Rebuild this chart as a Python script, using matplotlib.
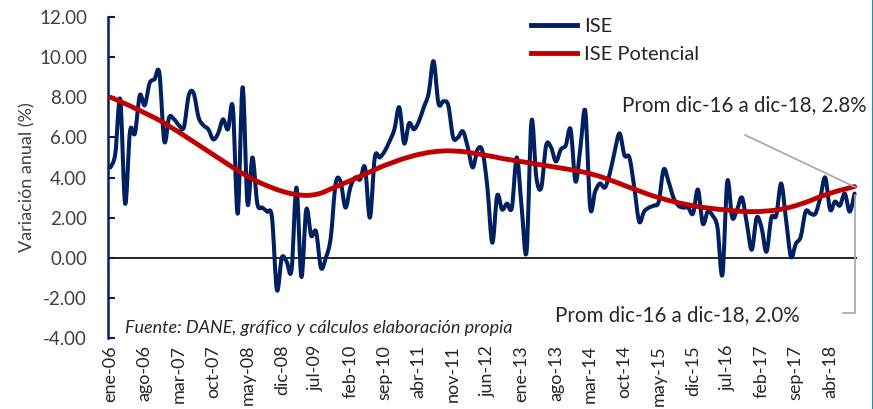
import matplotlib.pyplot as plt
from matplotlib.lines import Line2D
from matplotlib.path import Path
from matplotlib.patches import PathPatch
import numpy as np

plt.rcParams['font.family'] = ['Lato', 'DejaVu Sans']

# ISE monthly annual variation (%), ene-06 .. sep-18
ise = [4.5, 5.2, 7.9, 2.7, 6.3, 6.2, 8.1, 7.6, 8.7, 8.9,
       9.2, 5.8, 7.0, 6.9, 6.6, 6.5, 8.1, 8.2, 7.0, 6.6,
       6.4, 5.9, 6.2, 6.9, 6.4, 7.5, 2.2, 8.5, 2.7, 5.0,
       2.7, 2.5, 2.3, 2.0, -1.6, 0.0, -0.2, -0.6, 3.5, -0.95,
       2.4, 1.1, 1.3, -0.5, 0.0, 1.0, 3.7, 3.8, 2.5, 3.5,
       4.0, 3.9, 4.5, 2.0, 5.0, 5.0, 5.3, 5.8, 6.4, 7.5,
       5.7, 6.7, 6.4, 6.8, 7.5, 8.2, 9.8, 7.7, 7.8, 7.6,
       6.0, 6.0, 6.3, 5.5, 4.5, 5.4, 5.3, 3.5, 0.75, 3.1,
       2.4, 2.7, 2.5, 5.0, 2.5, 0.3, 6.8, 4.0, 3.5, 5.6,
       5.5, 4.8, 5.4, 5.6, 6.4, 3.8, 5.5, 7.3, 2.5, 3.3,
       3.7, 3.5, 4.2, 5.3, 6.2, 5.1, 5.0, 3.5, 1.8, 2.3,
       2.5, 2.6, 2.8, 4.4, 3.8, 3.0, 2.6, 2.5, 2.5, 2.2,
       3.4, 1.7, 2.3, 2.1, 1.5, -0.85, 3.8, 2.0, 2.4, 3.0,
       1.7, 0.4, 2.0, 1.5, 0.3, 2.0, 2.1, 3.7, 1.9, 0.05,
       0.7, 1.05, 2.3, 2.2, 2.2, 3.0, 4.0, 2.4, 2.8, 2.6,
       3.2, 2.3, 3.2]

ise_pot = [8.00, 7.90, 7.79, 7.68, 7.57, 7.45, 7.34, 7.22, 7.10, 6.98,
           6.85, 6.71, 6.56, 6.41, 6.26, 6.10, 5.94, 5.78, 5.62, 5.46,
           5.30, 5.14, 4.98, 4.82, 4.66, 4.50, 4.35, 4.20, 4.06, 3.93,
           3.80, 3.69, 3.59, 3.49, 3.40, 3.32, 3.25, 3.19, 3.15, 3.12,
           3.11, 3.12, 3.16, 3.22, 3.32, 3.43, 3.53, 3.63, 3.74, 3.84,
           3.95, 4.06, 4.17, 4.28, 4.39, 4.50, 4.60, 4.69, 4.78, 4.87,
           4.95, 5.02, 5.09, 5.15, 5.20, 5.25, 5.28, 5.31, 5.32, 5.33,
           5.32, 5.31, 5.29, 5.26, 5.22, 5.18, 5.14, 5.09, 5.05, 5.00,
           4.95, 4.91, 4.87, 4.83, 4.79, 4.75, 4.71, 4.67, 4.63, 4.59,
           4.55, 4.51, 4.47, 4.43, 4.39, 4.35, 4.30, 4.25, 4.19, 4.12,
           4.05, 3.97, 3.88, 3.79, 3.70, 3.60, 3.51, 3.42, 3.33, 3.24,
           3.15, 3.07, 3.00, 2.93, 2.86, 2.80, 2.74, 2.69, 2.64, 2.59,
           2.55, 2.51, 2.48, 2.45, 2.42, 2.40, 2.38, 2.35, 2.33, 2.31,
           2.30, 2.30, 2.30, 2.31, 2.33, 2.35, 2.38, 2.42, 2.47, 2.53,
           2.60, 2.68, 2.76, 2.85, 2.95, 3.05, 3.13, 3.21, 3.29, 3.36,
           3.42, 3.49, 3.55]

tick_labels = ['ene-06', 'ago-06', 'mar-07', 'oct-07', 'may-08', 'dic-08',
               'jul-09', 'feb-10', 'sep-10', 'abr-11', 'nov-11', 'jun-12',
               'ene-13', 'ago-13', 'mar-14', 'oct-14', 'may-15', 'dic-15',
               'jul-16', 'feb-17', 'sep-17', 'abr-18']

navy = '#002060'
red = '#C00000'
grey = '#A6A6A6'
txt = '#262626'


def smooth_path(y):
    # Excel-like smoothed line: cubic bezier through every data point
    p = np.column_stack([np.arange(len(y)), np.asarray(y, float)])
    ext = np.vstack([p[0], p, p[-1]])
    verts = [p[0]]
    codes = [Path.MOVETO]
    for i in range(len(p) - 1):
        c1 = ext[i + 1] + (ext[i + 2] - ext[i]) / 6
        c2 = ext[i + 2] - (ext[i + 3] - ext[i + 1]) / 6
        verts += [c1, c2, p[i + 1]]
        codes += [Path.CURVE4] * 3
    return Path(verts, codes)


fig = plt.figure(figsize=(8.73, 4.09), dpi=100)
ax = fig.add_axes([0.1237, 0.1736, 0.858, 0.7848])

ax.axhline(0, color='black', lw=1.2, zorder=1)
ax.add_patch(PathPatch(smooth_path(ise), facecolor='none', edgecolor=navy,
                       lw=2.9, zorder=2, joinstyle='round', capstyle='round'))
ax.add_patch(PathPatch(smooth_path(ise_pot), facecolor='none', edgecolor=red,
                       lw=3.5, zorder=3, capstyle='round'))

ax.set_xlim(-0.5, len(ise) - 0.5)
ax.set_ylim(-4, 12)
ax.set_yticks(np.arange(-4, 13, 2))
ax.set_yticklabels([f'{v:.2f}' for v in np.arange(-4, 13, 2)], fontsize=13.5,
                   color='#404040')
ax.set_xticks(np.arange(0, len(ise), 7))
ax.set_xticklabels(tick_labels, rotation=90, fontsize=13, color=txt)
ax.tick_params(axis='x', length=0, pad=5)
ax.tick_params(axis='y', direction='in', length=5, width=1.5, color=navy, pad=15)
for s in ['top', 'right', 'bottom']:
    ax.spines[s].set_visible(False)
ax.spines['left'].set_color(navy)
ax.spines['left'].set_linewidth(1.8)
ax.set_ylabel('Variación anual (%)', fontsize=13, color='#404040', labelpad=3)

handles = [Line2D([], [], color=navy, lw=3.5), Line2D([], [], color=red, lw=3.5)]
ax.legend(handles, ['ISE', 'ISE Potencial'], loc='upper left',
          bbox_to_anchor=(0.54, 1.055), frameon=False, fontsize=14.5,
          handlelength=2.3, labelspacing=0.55, handletextpad=0.35,
          labelcolor=txt)

# annotations (pixel coords of figure)
fig.text(622 / 873, 1 - 105 / 409, 'Prom dic-16 a dic-18, 2.8%', fontsize=14.8,
         color=txt, va='center', ha='left')
fig.text(555 / 873, 1 - 315 / 409, 'Prom dic-16 a dic-18, 2.0%', fontsize=14.8,
         color=txt, va='center', ha='left')
fig.add_artist(Line2D([745 / 873, 855 / 873], [1 - 135 / 409, 1 - 187 / 409],
                      color=grey, lw=1.2))
fig.add_artist(Line2D([855 / 873, 855 / 873, 843 / 873],
                      [1 - 195 / 409, 1 - 313 / 409, 1 - 313 / 409],
                      color=grey, lw=1.2))
fig.text(125 / 873, 1 - 328 / 409,
         'Fuente: DANE, gráfico y cálculos elaboración propia',
         fontsize=13, style='italic', color=txt, va='center')

# chart border on the right
fig.add_artist(Line2D([872.5 / 873, 872.5 / 873], [0, 1], color='#1F8FA8', lw=1.5))

fig.savefig('out.png', dpi=100)
